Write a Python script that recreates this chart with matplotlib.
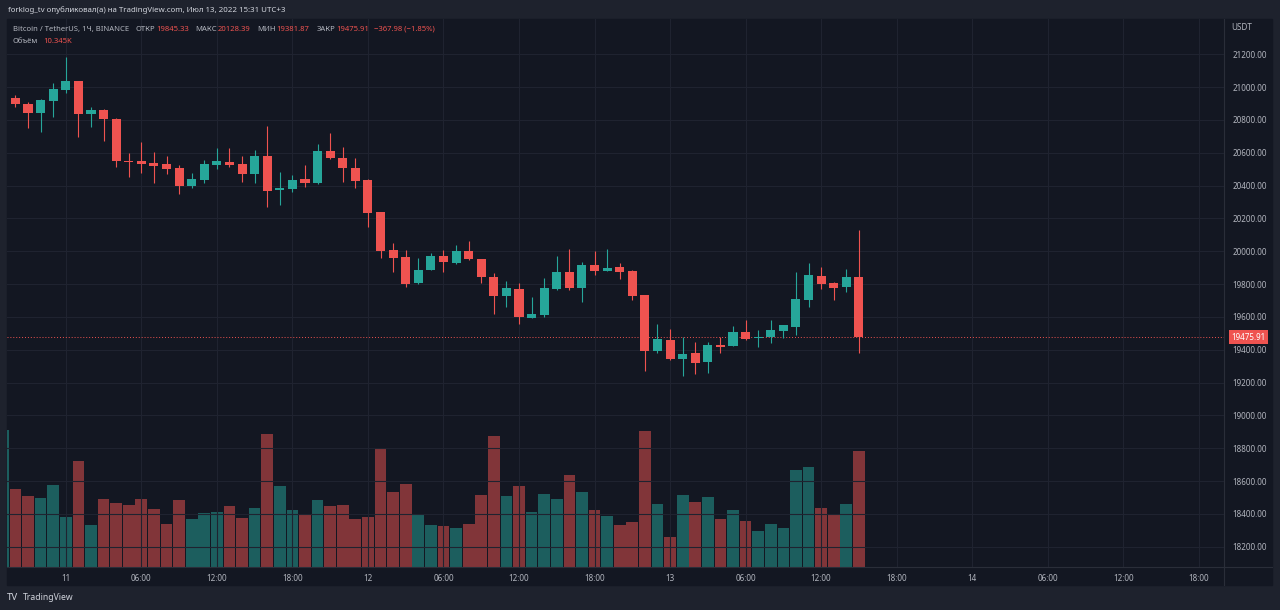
import matplotlib.pyplot as plt
from matplotlib.patches import Rectangle
from matplotlib.lines import Line2D
from matplotlib.ticker import FuncFormatter

plt.rcParams['font.family'] = ['Noto Sans', 'DejaVu Sans']

# =======================
# Data: hourly candles, hour offset from 11 Jul 00:00
# =======================
hours = list(range(-5, 64))

opens = [20880, 20932, 20897, 20840, 20915, 20984, 21037, 20834, 20861, 20808,
         20550, 20550, 20538, 20530, 20505, 20398, 20436, 20526, 20546, 20532,
         20471, 20582, 20373, 20381, 20440, 20414, 20613, 20570, 20509, 20434,
         20241, 20008, 19967, 19805, 19884, 19971, 19930, 20002, 19951, 19845,
         19727, 19768, 19595, 19612, 19768, 19874, 19776, 19918, 19880, 19902,
         19880, 19732, 19394, 19459, 19344, 19378, 19325, 19429, 19423, 19506,
         19470, 19476, 19516, 19540, 19701, 19849, 19808, 19780, 19845.33]

highs = [20950, 20952, 20911, 20926, 21023, 21182, 21040, 20881, 20865, 20810,
         20597, 20667, 20607, 20580, 20526, 20479, 20556, 20631, 20631, 20580,
         20617, 20763, 20485, 20465, 20526, 20652, 20719, 20637, 20566, 20440,
         20241, 20052, 20008, 19957, 19988, 20008, 20038, 20062, 19955, 19869,
         19819, 19805, 19720, 19839, 19973, 20012, 19936, 20002, 20012, 19927,
         19885, 19735, 19555, 19526, 19479, 19449, 19449, 19476, 19545, 19581,
         19520, 19581, 19552, 19875, 19930, 19902, 19815, 19890, 20128.39]

lows = [20870, 20877, 20753, 20728, 20820, 20966, 20698, 20755, 20674, 20515,
        20454, 20479, 20418, 20471, 20349, 20384, 20414, 20499, 20511, 20424,
        20418, 20271, 20282, 20363, 20393, 20410, 20560, 20420, 20387, 20150,
        19957, 19875, 19784, 19800, 19884, 19875, 19925, 19948, 19805, 19616,
        19662, 19557, 19595, 19601, 19765, 19764, 19693, 19855, 19878, 19829,
        19703, 19272, 19378, 19340, 19242, 19252, 19260, 19378, 19420, 19460,
        19418, 19439, 19470, 19490, 19662, 19768, 19703, 19754, 19381.87]

closes = [20930, 20895, 20840, 20920, 20989, 21037, 20834, 20861, 20804, 20552,
          20542, 20533, 20521, 20499, 20398, 20438, 20530, 20550, 20526, 20471,
          20582, 20369, 20387, 20434, 20414, 20613, 20566, 20505, 20428, 20235,
          20002, 19961, 19799, 19886, 19971, 19936, 20002, 19951, 19841, 19727,
          19774, 19598, 19620, 19774, 19874, 19774, 19918, 19880, 19900, 19875,
          19727, 19394, 19464, 19344, 19374, 19321, 19429, 19418, 19506, 19465,
          19479, 19520, 19549, 19707, 19855, 19800, 19778, 19841, 19475.91]

volumes = [12256, 6993, 6369, 6155, 7350, 4496, 9428, 3720, 6039, 5744,
           5504, 6039, 5174, 3809, 5950, 4255, 4852, 4906, 5414, 4371,
           5236, 11837, 7225, 5058, 4728, 5976, 5414, 5504, 4317, 4460,
           10526, 6690, 7377, 4728, 3720, 3630, 3479, 3809, 6422, 11658,
           6333, 7225, 4906, 6485, 6101, 8242, 6726, 5120, 4522, 3746,
           3987, 12167, 5655, 2649, 6396, 5798, 6217, 4255, 5058, 4076,
           3247, 3809, 3514, 8652, 8920, 5236, 4612, 5593, 10345]

tick_hours = list(range(0, 91, 6))
tick_labels = ["11", "06:00", "12:00", "18:00", "12", "06:00", "12:00", "18:00",
               "13", "06:00", "12:00", "18:00", "14", "06:00", "12:00", "18:00"]
price_ticks = list(range(18200, 21201, 200))

# =======================
# Colours
# =======================
BG = '#131722'
FRAME = '#1e222d'
GRID = '#1f2330'
UP = '#26a69a'
DOWN = '#ef5350'
TEXT = '#b2b5be'

W, H = 1280, 610


def px(x, y):
    return x / W, 1 - y / H


fig = plt.figure(figsize=(12.8, 6.1), dpi=100, facecolor=FRAME)

# dark pane + axis strip background
x0, y0 = px(7, 585)
fig.add_artist(Rectangle((x0, y0), (1272 - 7) / W, (585 - 19) / H,
                         transform=fig.transFigure, color=BG, zorder=-1))

rect = [7 / W, (H - 567) / H, (1224 - 7) / W, (567 - 19) / H]

# volume overlay
vax = fig.add_axes(rect, zorder=0)
vax.set_facecolor('none')
vcol = [UP if c >= o else DOWN for o, c in zip(opens, closes)]
vax.bar(hours, volumes, width=0.93, color=vcol, alpha=0.5, linewidth=0)
vax.set_ylim(0, 48900)
vax.set_xlim(-4.67, 92.0)
vax.axis('off')

# price pane
ax = fig.add_axes(rect, zorder=1)
ax.set_facecolor('none')
ax.set_xlim(-4.67, 92.0)
ax.set_ylim(18076, 21415)

for h in tick_hours:
    ax.axvline(h, color=GRID, lw=0.8, zorder=0)
for p in price_ticks:
    ax.axhline(p, color=GRID, lw=0.8, zorder=0)

for h, o, hi, lo, c in zip(hours, opens, highs, lows, closes):
    col = UP if c >= o else DOWN
    ax.vlines(h, lo, hi, color=col, lw=0.8, zorder=2)
    ax.bar(h, max(abs(c - o), 5), bottom=min(o, c), width=0.72,
           color=col, linewidth=0, zorder=3)

# last price line + label
last = closes[-1]
ax.axhline(last, color=DOWN, lw=0.7, linestyle=(0, (1, 2)), zorder=1)
ax.text(1.006, last, f"{last:.2f}", transform=ax.get_yaxis_transform(),
        ha='left', va='center', fontsize=5.8, color='white', zorder=5,
        bbox=dict(boxstyle='square,pad=0.3', fc=DOWN, ec='none'),
        clip_on=False)

ax.yaxis.tick_right()
ax.set_yticks(price_ticks)
ax.yaxis.set_major_formatter(FuncFormatter(lambda v, p: f"{v:.2f}"))
ax.set_xticks(tick_hours)
ax.set_xticklabels(tick_labels)
ax.tick_params(axis='both', length=0, colors=TEXT, labelsize=5.8)
ax.tick_params(axis='y', pad=6)
ax.tick_params(axis='x', pad=5)
for s in ax.spines.values():
    s.set_visible(False)

# pane separators
fig.add_artist(Line2D([1224 / W, 1224 / W], [px(0, 19)[1], px(0, 585)[1]],
                      color='#2a2e39', lw=0.8))
fig.add_artist(Line2D([7 / W, 1272 / W], [px(0, 567)[1], px(0, 567)[1]],
                      color='#2a2e39', lw=0.8))

# =======================
# Texts
# =======================
fig.text(*px(8, 10), "forklog_tv опубликовал(а) на TradingView.com, Июл 13, 2022 15:31 UTC+3",
         color='#d1d4dc', fontsize=5.7, fontweight='bold', va='center')

fig.text(*px(1231, 28), "USDT", color=TEXT, fontsize=5.8, va='center')

# legend line: pieces placed one after another (gap in pixels before each)
renderer = fig.canvas.get_renderer()
legend = [(0, "Bitcoin / TetherUS, 1Ч, BINANCE", TEXT),
          (7, "ОТКР", TEXT), (0.5, "19845.33", DOWN),
          (7, "МАКС", TEXT), (0.5, "20128.39", DOWN),
          (7, "МИН", TEXT), (0.5, "19381.87", DOWN),
          (7, "ЗАКР", TEXT), (0.5, "19475.91", DOWN),
          (5, "\u2212367.98 (\u22121.85%)", DOWN)]
xpos = 12.7
for gap, s, c in legend:
    xpos += gap
    t = fig.text(*px(xpos, 29.3), s, color=c, fontsize=5.5, va='center')
    xpos = t.get_window_extent(renderer).x1
fig.text(*px(12.7, 41.7), "Объём", color=TEXT, fontsize=5.5, va='center')
fig.text(*px(43.3, 41.7), "10.345K", color=DOWN, fontsize=5.5, va='center')

fig.text(*px(7, 597.7), "TV", color='#d1d4dc', fontsize=7, fontweight='heavy', va='center')
fig.text(*px(23.3, 597.7), "TradingView", color='#d1d4dc', fontsize=6.2, va='center')

fig.savefig("out.png", dpi=100, facecolor=fig.get_facecolor())
